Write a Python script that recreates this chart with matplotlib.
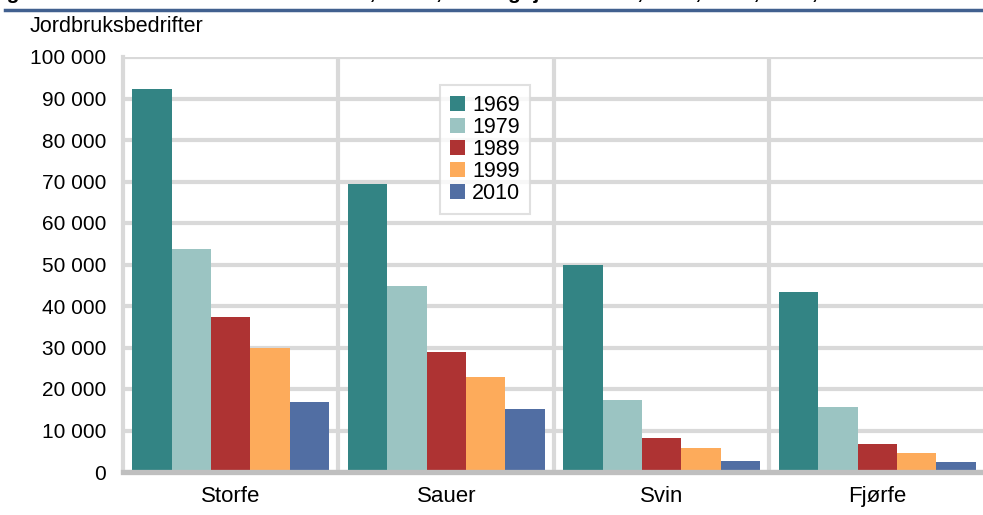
import numpy as np
import matplotlib.pyplot as plt
from matplotlib.ticker import FuncFormatter, MultipleLocator, FixedLocator

plt.rcParams['font.family'] = ['Liberation Sans', 'DejaVu Sans']

# data
kategorier = ["Storfe", "Sauer", "Svin", "Fjørfe"]
aar = ["1969", "1979", "1989", "1999", "2010"]
v1969 = [92200, 69300, 49900, 43300]
v1979 = [53700, 44700, 17400, 15700]
v1989 = [37400, 28900, 8100, 6700]
v1999 = [30000, 22800, 5700, 4600]
v2010 = [16900, 15100, 2600, 2400]
serier = [v1969, v1979, v1989, v1999, v2010]
farger = ["#338484", "#9bc4c2", "#ae3333", "#fdab5b", "#516ea3"]

fig = plt.figure(figsize=(9.83, 5.15), dpi=100)
ax = fig.add_axes([123 / 983, 1 - 472 / 515, 862 / 983, 415 / 515])

x = np.arange(len(kategorier))
b = 0.183
for i in range(len(aar)):
    ax.bar(x + (i - 2) * b, serier[i], width=b, color=farger[i],
           label=aar[i], zorder=3, edgecolor="none")

ax.set_xlim(-0.5, 3.5)
ax.set_ylim(0, 100000)
ax.yaxis.set_major_locator(MultipleLocator(10000))
ax.yaxis.set_major_formatter(FuncFormatter(lambda v, p: f"{int(v):,}".replace(",", " ")))
ax.set_xticks(x)
ax.set_xticklabels(kategorier)
ax.xaxis.set_minor_locator(FixedLocator([0.5, 1.5, 2.5, 3.5]))
ax.tick_params(axis="both", which="both", length=0)
ax.tick_params(axis="y", pad=12, labelsize=15)
ax.tick_params(axis="x", pad=10, labelsize=16)

ax.set_axisbelow(True)
ax.grid(axis="y", which="major", color="#d9d9d9", lw=3, zorder=0)
ax.grid(axis="x", which="minor", color="#d9d9d9", lw=3, zorder=0)

for s in ["top", "right"]:
    ax.spines[s].set_visible(False)
ax.spines["left"].set_color("#d9d9d9")
ax.spines["left"].set_linewidth(3)
ax.spines["bottom"].set_color("#bfbfbf")
ax.spines["bottom"].set_linewidth(3.8)
ax.spines["bottom"].set_zorder(4)

leg = ax.legend(loc="upper left", bbox_to_anchor=(440 / 983, 1 - 85 / 515),
                bbox_transform=fig.transFigure, fontsize=15.5, frameon=True,
                fancybox=False, handlelength=0.7, handleheight=0.7,
                handletextpad=0.35, labelspacing=0.05, borderpad=0.45,
                borderaxespad=0)
leg.get_frame().set_edgecolor("#d9d9d9")
leg.get_frame().set_linewidth(1.5)
leg.set_zorder(5)

# tittel (kuttet i toppen) og blå linje
fig.text(-12 / 983, 1 + 1 / 515,
         "Figur 2. Jordbruksbedrifter med storfe, sauer, svin og fjørfe. 1969, 1979, 1989, 1999, 2010",
         fontsize=15, fontweight="bold", va="baseline", ha="left")
fig.add_artist(plt.Line2D([5 / 983, 1], [1 - 9.5 / 515, 1 - 9.5 / 515],
                          color="#41608f", lw=2.5, transform=fig.transFigure))
fig.text(30 / 983, 1 - 27 / 515, "Jordbruksbedrifter", fontsize=15.5, va="center", ha="left")

plt.savefig("out.png", dpi=100)
